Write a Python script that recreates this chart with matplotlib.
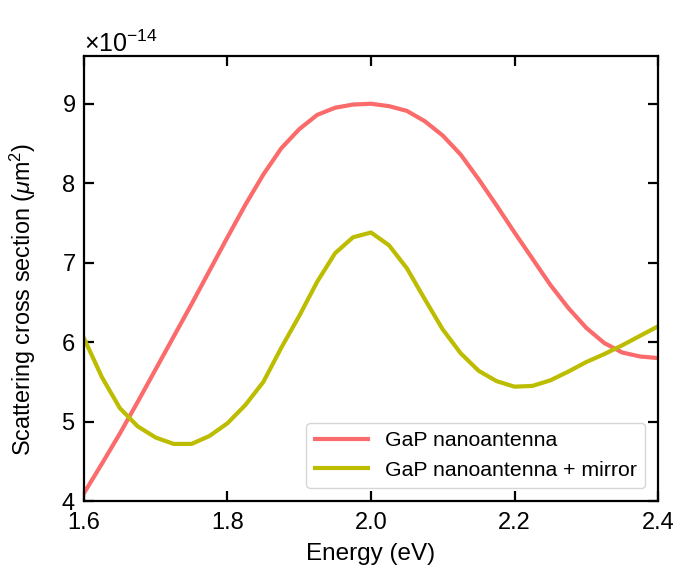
import numpy as np
import matplotlib
matplotlib.use("Agg")
import matplotlib.pyplot as plt

plt.rcParams["font.family"] = ["Liberation Sans", "DejaVu Sans"]
plt.rcParams["mathtext.fontset"] = "custom"
plt.rcParams["mathtext.rm"] = "Liberation Sans"
plt.rcParams["mathtext.it"] = "Liberation Sans:italic"

# Energia (eV) y secciones eficaces (x 1e-14 um^2)
energy = [1.600, 1.625, 1.650, 1.675, 1.700, 1.725, 1.750, 1.775, 1.800,
          1.825, 1.850, 1.875, 1.900, 1.925, 1.950, 1.975, 2.000, 2.025,
          2.050, 2.075, 2.100, 2.125, 2.150, 2.175, 2.200, 2.225, 2.250,
          2.275, 2.300, 2.325, 2.350, 2.375, 2.400]

antenna = [4.10, 4.47, 4.85, 5.25, 5.66, 6.07, 6.48, 6.90, 7.32,
           7.73, 8.11, 8.44, 8.68, 8.86, 8.95, 8.99, 9.00, 8.97,
           8.91, 8.78, 8.60, 8.36, 8.05, 7.72, 7.38, 7.05, 6.72,
           6.43, 6.18, 5.99, 5.87, 5.82, 5.80]

mirror = [6.05, 5.56, 5.17, 4.94, 4.80, 4.72, 4.72, 4.82, 4.98,
          5.21, 5.50, 5.93, 6.33, 6.76, 7.12, 7.32, 7.38, 7.22,
          6.93, 6.54, 6.16, 5.86, 5.64, 5.51, 5.44, 5.45, 5.52,
          5.63, 5.75, 5.85, 5.96, 6.08, 6.20]

scale = 1e-14
energy = np.array(energy)
antenna = np.array(antenna) * scale
mirror = np.array(mirror) * scale

fig = plt.figure(figsize=(6.77, 5.78), dpi=100)
ax = fig.add_axes([0.124, 0.133, 0.848, 0.770])

ax.plot(energy, antenna, color="#fb6b6b", lw=3, label="GaP nanoantenna")
ax.plot(energy, mirror, color="#bcbc00", lw=3, label="GaP nanoantenna + mirror")

ax.set_xlim(1.6, 2.4)
ax.set_ylim(4e-14, 9.6e-14)
ax.set_xticks([1.6, 1.8, 2.0, 2.2, 2.4])
ax.set_xticklabels(["1.6", "1.8", "2.0", "2.2", "2.4"])
ax.set_yticks(np.arange(4, 10) * scale)

fmt = matplotlib.ticker.ScalarFormatter(useMathText=True)
ax.yaxis.set_major_formatter(fmt)
ax.yaxis.get_offset_text().set_fontsize(18)

ax.tick_params(direction="in", top=True, right=True, length=7, width=1.6,
               labelsize=17)
ax.tick_params(axis="x", pad=8)
ax.tick_params(axis="y", pad=6)
for s in ax.spines.values():
    s.set_linewidth(1.6)

ax.set_xlabel("Energy (eV)", fontsize=17.5, labelpad=6)
ax.set_ylabel("Scattering cross section ($\\mu$m$^2$)", fontsize=16.8)
ax.yaxis.set_label_coords(-0.08, 0.452)

ax.legend(loc="lower right", fontsize=15.3, handlelength=2.5, borderaxespad=0.6)

plt.savefig("out.png", dpi=100)
plt.close()
